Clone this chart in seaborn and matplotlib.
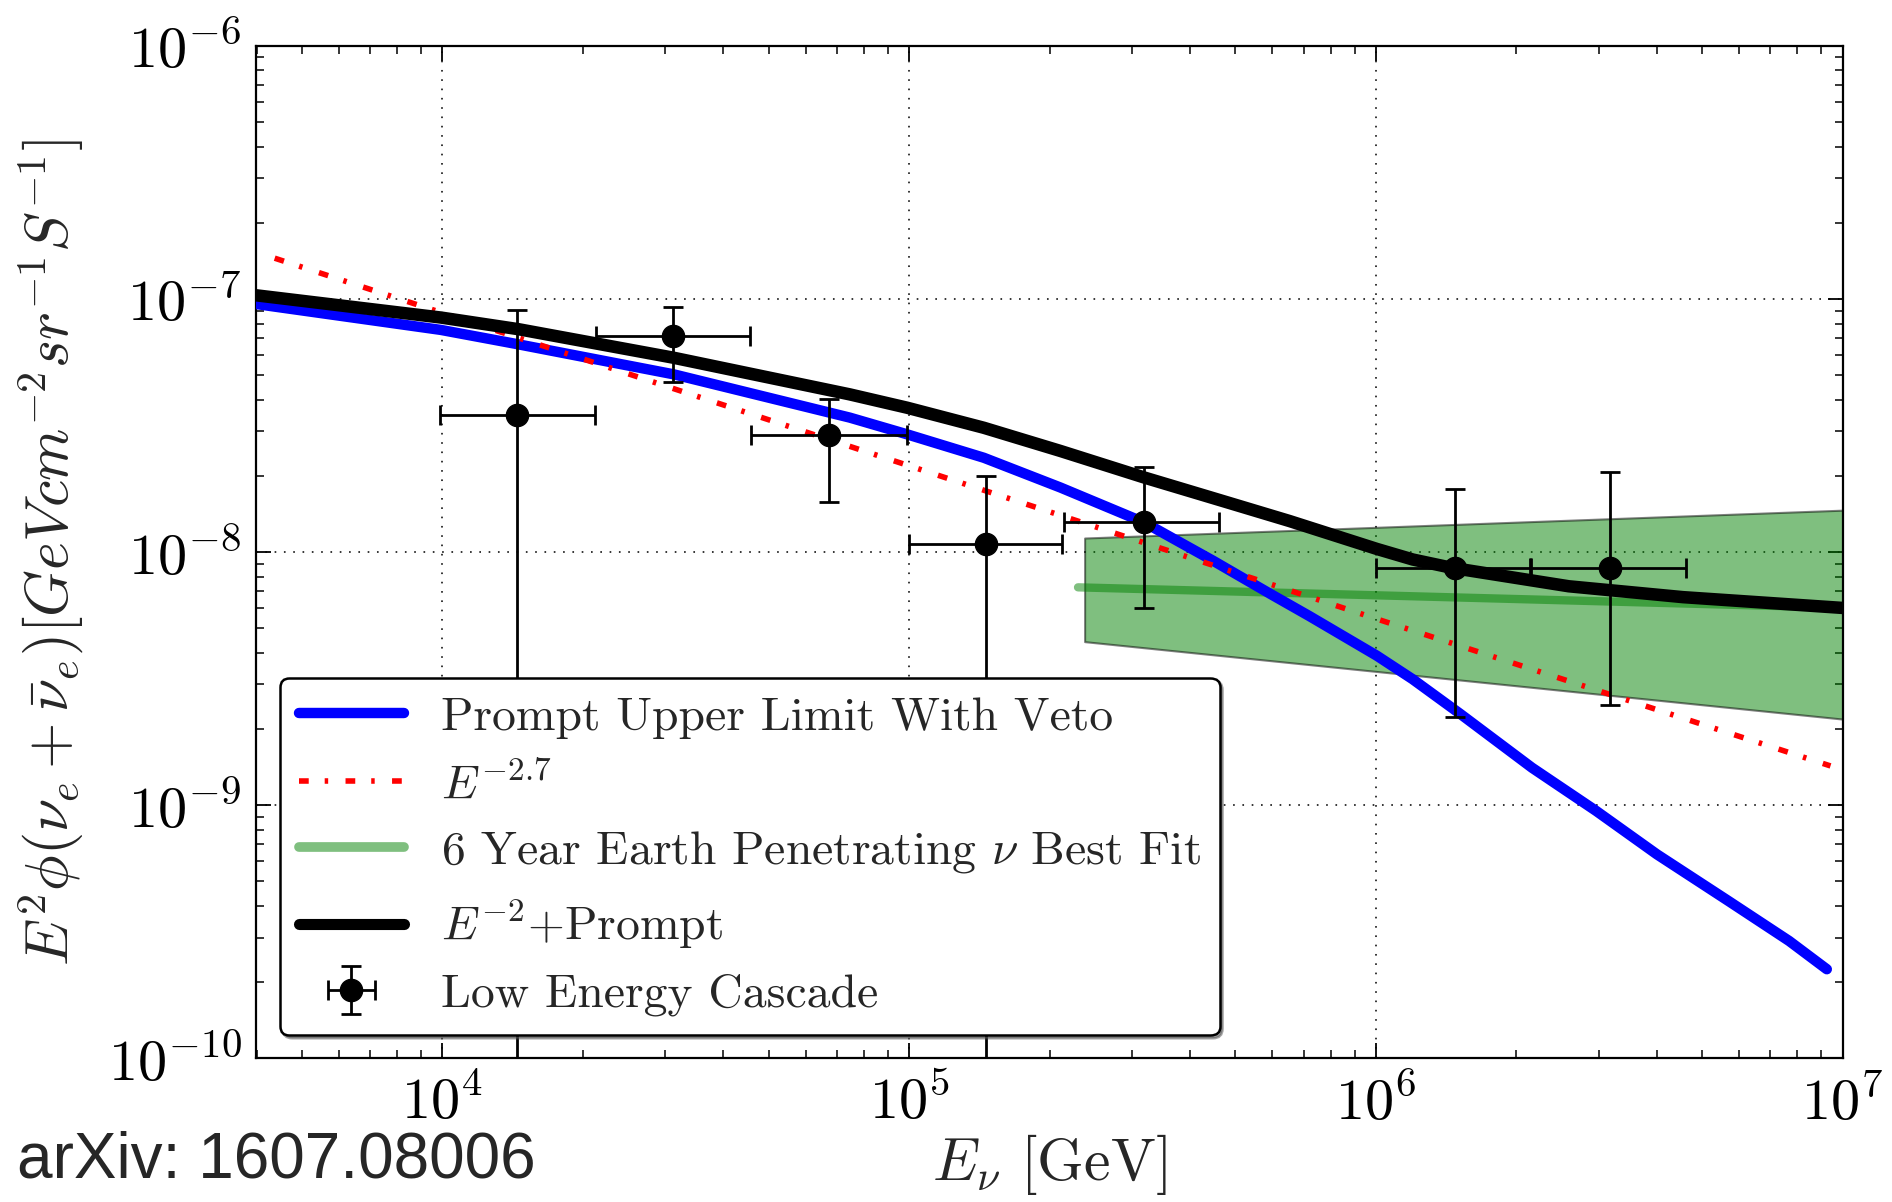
import matplotlib
matplotlib.use("Agg")
import matplotlib.pyplot as plt
import seaborn as sns
from matplotlib.lines import Line2D

# ---------------- data ----------------
prompt_E = [3.98e3, 9.92e3, 1.455e4, 3.13e4, 7.46e4, 9.90e4, 1.445e5, 2.109e5,
            3.194e5, 4.487e5, 5.957e5, 7.19e5, 1.004e6, 1.198e6, 1.519e6,
            2.16e6, 2.966e6, 4.0e6, 5.70e6, 7.68e6, 9.25e6]
prompt_flux = [9.56e-8, 7.55e-8, 6.62e-8, 5.04e-8, 3.40e-8, 2.92e-8, 2.36e-8,
               1.80e-8, 1.308e-8, 9.23e-9, 6.82e-9, 5.60e-9, 3.90e-9, 3.15e-9,
               2.29e-9, 1.407e-9, 9.49e-10, 6.40e-10, 4.18e-10, 2.91e-10,
               2.25e-10]

e27_E = [4.37e3, 1.0e4, 1.0e6, 9.42e6]
e27_flux = [1.45e-7, 8.81e-8, 5.46e-9, 1.43e-9]

e2p_E = [3.98e3, 9.92e3, 1.455e4, 3.13e4, 7.46e4, 9.90e4, 1.445e5, 2.109e5,
         3.194e5, 4.71e5, 6.53e5, 1.004e6, 1.20e6, 1.45e6, 2.59e6, 4.55e6,
         1.0e7]
e2p_flux = [1.035e-7, 8.45e-8, 7.60e-8, 5.86e-8, 4.20e-8, 3.72e-8, 3.10e-8,
            2.51e-8, 1.97e-8, 1.59e-8, 1.327e-8, 1.03e-8, 9.35e-9, 8.68e-9,
            7.33e-9, 6.64e-9, 6.02e-9]

band_E = [2.376e5, 1.0e7]
band_low = [4.43e-9, 2.19e-9]
band_high = [1.137e-8, 1.465e-8]
band_fit_E = [2.30e5, 1.0e7]
band_fit = [7.26e-9, 6.03e-9]

casc_E = [1.445e4, 3.12e4, 6.72e4, 1.458e5, 3.18e5, 1.478e6, 3.17e6]
casc_E_lo = [9.9e3, 2.13e4, 4.59e4, 1.0e5, 2.15e5, 1.0e6, 2.15e6]
casc_E_hi = [2.12e4, 4.56e4, 9.9e4, 2.13e5, 4.6e5, 2.14e6, 4.61e6]
casc_flux = [3.48e-8, 7.12e-8, 2.89e-8, 1.076e-8, 1.31e-8, 8.65e-9, 8.65e-9]
casc_flux_lo = [1e-11, 4.69e-8, 1.58e-8, 1e-11, 6.02e-9, 2.24e-9, 2.50e-9]
casc_flux_hi = [9.06e-8, 9.26e-8, 4.02e-8, 1.99e-8, 2.17e-8, 1.77e-8, 2.08e-8]

labels = ["Prompt Upper Limit With Veto", r"$E^{-2.7}$",
          r"6 Year Earth Penetrating $\nu$ Best Fit", r"$E^{-2}$+Prompt",
          "Low Energy Cascade"]

# ---------------- style ----------------
sns.set_style("ticks")
plt.rcParams.update({
    "font.family": ["cmr10", "DejaVu Serif"],
    "mathtext.fontset": "cm",
    "axes.formatter.use_mathtext": True,
    "axes.unicode_minus": False,
    "xtick.direction": "in", "ytick.direction": "in",
    "xtick.top": True, "ytick.right": True,
    "xtick.major.size": 11, "ytick.major.size": 11,
    "xtick.minor.size": 5.5, "ytick.minor.size": 5.5,
    "xtick.major.width": 1.3, "ytick.major.width": 1.3,
    "xtick.minor.width": 1.1, "ytick.minor.width": 1.1,
    "xtick.color": "black", "ytick.color": "black",
    "axes.edgecolor": "black", "axes.linewidth": 1.6,
    "lines.scale_dashes": False,
})

fig = plt.figure(figsize=(18.92, 12.02), dpi=100)
ax = fig.add_axes([0.1352, 0.1195, 0.8387, 0.8423])
ax.set_xscale("log")
ax.set_yscale("log")

green = "green"
red_dash = (0, (7, 11.5, 2.5, 12.5))
ax.fill_between(band_E, band_low, band_high, facecolor=green, edgecolor="black",
                alpha=0.5, lw=1.5, zorder=1)
sns.lineplot(x=band_fit_E, y=band_fit, ax=ax, color=green, alpha=0.5, lw=6,
             zorder=2)
sns.lineplot(x=prompt_E, y=prompt_flux, ax=ax, color="blue", lw=7.5, zorder=3)
sns.lineplot(x=e27_E, y=e27_flux, ax=ax, color="red", lw=4, ls=red_dash,
             zorder=4)
sns.lineplot(x=e2p_E, y=e2p_flux, ax=ax, color="black", lw=9, zorder=5)

xerr = [[c - l for c, l in zip(casc_E, casc_E_lo)],
        [h - c for c, h in zip(casc_E, casc_E_hi)]]
yerr = [[c - l for c, l in zip(casc_flux, casc_flux_lo)],
        [h - c for c, h in zip(casc_flux, casc_flux_hi)]]
eb = ax.errorbar(casc_E, casc_flux, xerr=xerr, yerr=yerr, fmt="o", color="black",
                 ms=16, elinewidth=2, capsize=7.5, capthick=2, zorder=6)

ax.set_xlim(10 ** 3.6, 1e7)
ax.set_ylim(1e-10, 1e-6)
ax.grid(True, which="major", color="black", lw=1.1, ls=(0, (1.2, 5.5)))
ax.tick_params(axis="both", which="major", labelsize=42)
ax.tick_params(axis="x", which="major", pad=12)
ax.tick_params(axis="y", which="major", pad=10)

ax.set_xlabel(r"$E_{\nu}$ [GeV]", fontsize=43, labelpad=0)
ax.set_ylabel(r"$E^2\phi(\nu_e+\bar{\nu}_e)[GeVcm^{-2}sr^{-1}S^{-1}]$",
              fontsize=43, labelpad=16)

h_blue = Line2D([], [], color="blue", lw=7.5)
h_red = Line2D([], [], color="red", lw=4, ls=red_dash)
h_green = Line2D([], [], color=green, alpha=0.5, lw=7)
h_black = Line2D([], [], color="black", lw=8)
leg = ax.legend([h_blue, h_red, h_green, h_black, eb], labels,
                loc="lower left", bbox_to_anchor=(0.0152, 0.0226),
                borderaxespad=0, fontsize=34.3, frameon=True, fancybox=True,
                shadow=True, framealpha=1, handlelength=2.2,
                handletextpad=0.78, labelspacing=0.47, borderpad=0.40)
leg.get_frame().set_edgecolor("black")
leg.get_frame().set_linewidth(1.8)
leg.set_zorder(10)

fig.text(0.009, 0.02, "arXiv: 1607.08006", fontsize=46,
         family=["Liberation Sans", "DejaVu Sans"], ha="left", va="baseline")

fig.savefig("out.png", dpi=100)
